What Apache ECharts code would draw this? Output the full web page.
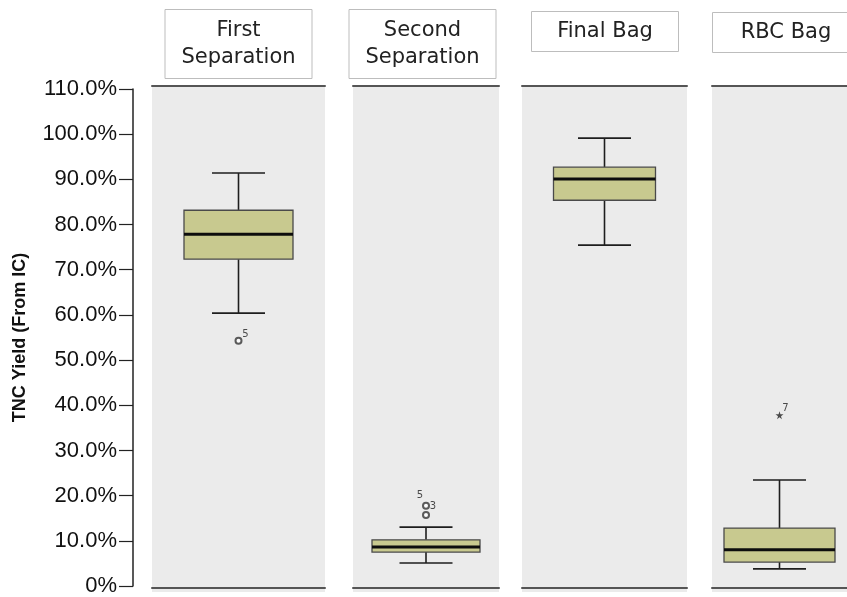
<!DOCTYPE html>
<html>
<head>
<meta charset="utf-8">
<script src="https://cdn.jsdelivr.net/npm/echarts@6/dist/echarts.min.js"></script>
<style>
  html, body { margin: 0; padding: 0; background: #fff; }
  #chart { width: 847px; height: 597px; }
</style>
</head>
<body>
<div id="chart"></div>
<script>
  // groups shown as panels
  var groups = ['First\nSeparation', 'Second\nSeparation', 'Final Bag', 'RBC Bag'];
  // [low whisker, Q1, median, Q3, high whisker] in %
  var boxStats = [
    [60.6, 72.5, 78.0, 83.3, 91.5],
    [5.5, 7.9, 9.0, 10.6, 13.4],
    [75.6, 85.5, 90.2, 92.8, 99.2],
    [4.2, 5.7, 8.4, 13.2, 23.8]
  ];
  // outliers: [panel, value, case label]
  var circleOutliers = [[0, 54.5, '5'], [1, 18.1, '5'], [1, 16.1, '3']];
  var starOutliers = [[3, 38.1, '7']];
  var yTicks = [0, 10, 20, 30, 40, 50, 60, 70, 80, 90, 100, 110];

  // panel layout (pixels)
  var panelLeft = [152, 353, 522, 712];
  var panelWidth = [173, 146, 165, 141];
  var boxWidth = [109, 108, 102, 111];
  var titleCenter = [238.5, 422.5, 605, 786];
  var titlePad = [[8, 17], [8, 17], [7, 26], [7, 28]];
  var titleTop = [9, 9, 11, 12];

  var chart = echarts.init(document.getElementById('chart'));

  var grids = [{ left: 133, top: 89, height: 499, width: 5, show: false }];
  var xAxes = [{ type: 'value', gridIndex: 0, show: false, min: 0, max: 1 }];
  var yAxes = [{
    type: 'value', gridIndex: 0, min: yTicks[0], max: yTicks[yTicks.length - 1], interval: 10,
    position: 'left',
    name: 'TNC Yield (From IC)', nameLocation: 'middle', nameGap: 104, nameRotate: 90,
    nameTextStyle: { fontFamily: 'Arial, "Liberation Sans"', fontWeight: 'bold', fontSize: 18, color: '#111' },
    axisLine: { show: true, lineStyle: { color: '#222', width: 1.5 } },
    axisTick: { show: true, length: 14, lineStyle: { color: '#222', width: 1.2 } },
    axisLabel: {
      fontFamily: 'Arial, "Liberation Sans"', fontSize: 22, color: '#111', margin: 16,
      formatter: function (v) { return v === 0 ? '0%' : v.toFixed(1) + '%'; }
    },
    splitLine: { show: false }
  }];
  var titles = [];
  var series = [];

  groups.forEach(function (g, i) {
    var gi = i + 1;
    grids.push({
      left: panelLeft[i], width: panelWidth[i], top: 86, height: 506,
      show: true, backgroundColor: '#ebebeb', borderWidth: 0
    });
    var lineAxis = {
      type: 'category', gridIndex: gi, data: [g],
      axisLine: { show: true, lineStyle: { color: '#555', width: 2 } },
      axisTick: { show: false }, axisLabel: { show: false }, splitLine: { show: false }
    };
    xAxes.push(Object.assign({ position: 'bottom' }, lineAxis));
    xAxes.push(Object.assign({ position: 'top' }, lineAxis));
    yAxes.push({
      type: 'value', gridIndex: gi, min: -0.9, max: 110.7, show: false
    });
    titles.push({
      text: g, left: titleCenter[i] - titlePad[i][1], top: titleTop[i], textAlign: 'center',
      padding: titlePad[i], borderColor: '#bdbdbd', borderWidth: 1, backgroundColor: '#fff',
      textStyle: { fontFamily: 'DejaVu Sans', fontSize: 21, fontWeight: 'normal', lineHeight: 27, color: '#222' }
    });

    var s = boxStats[i];
    series.push({
      type: 'custom', xAxisIndex: 2 * i + 1, yAxisIndex: gi,
      data: [[0, s[0], s[1], s[2], s[3], s[4]]],
      renderItem: function (params, api) {
        var x = api.coord([0, 0])[0];
        var yLow = api.coord([0, api.value(1)])[1];
        var yQ1 = api.coord([0, api.value(2)])[1];
        var yMed = api.coord([0, api.value(3)])[1];
        var yQ3 = api.coord([0, api.value(4)])[1];
        var yHigh = api.coord([0, api.value(5)])[1];
        var bw = boxWidth[i], cw = 53;
        var wStyle = { stroke: '#1e1e1e', lineWidth: 1.6 };
        return {
          type: 'group',
          children: [
            { type: 'line', shape: { x1: x, y1: yHigh, x2: x, y2: yQ3 }, style: wStyle },
            { type: 'line', shape: { x1: x, y1: yQ1, x2: x, y2: yLow }, style: wStyle },
            { type: 'line', shape: { x1: x - cw / 2, y1: yHigh, x2: x + cw / 2, y2: yHigh }, style: wStyle },
            { type: 'line', shape: { x1: x - cw / 2, y1: yLow, x2: x + cw / 2, y2: yLow }, style: wStyle },
            { type: 'rect', shape: { x: x - bw / 2, y: yQ3, width: bw, height: yQ1 - yQ3 },
              style: { fill: '#c8c98f', stroke: '#4a4a4a', lineWidth: 1.3 } },
            { type: 'line', shape: { x1: x - bw / 2, y1: yMed, x2: x + bw / 2, y2: yMed },
              style: { stroke: '#0d0d0d', lineWidth: 3 } }
          ]
        };
      }
    });
  });

  var labelOffsets = { '0-5': [7, -6], '1-5': [-6, -10], '1-3': [7, -9] };
  groups.forEach(function (g, i) {
    var pts = circleOutliers.filter(function (o) { return o[0] === i; });
    if (pts.length) {
      series.push({
        type: 'scatter', xAxisIndex: 2 * i + 1, yAxisIndex: i + 1,
        symbol: 'emptyCircle', symbolSize: 6,
        itemStyle: { color: '#333', borderWidth: 1 },
        data: pts.map(function (o) {
          return {
            value: [0, o[1]], name: o[2],
            label: {
              show: true, position: 'inside', formatter: '{b}',
              offset: labelOffsets[i + '-' + o[2]] || [7, -7],
              fontFamily: 'DejaVu Sans', fontSize: 10, color: '#222'
            }
          };
        })
      });
    }
    var stars = starOutliers.filter(function (o) { return o[0] === i; });
    if (stars.length) {
      series.push({
        type: 'scatter', xAxisIndex: 2 * i + 1, yAxisIndex: i + 1,
        symbol: 'path://M50,0 L61,35 L98,35 L68,57 L79,91 L50,70 L21,91 L32,57 L2,35 L39,35 Z',
        symbolSize: 8,
        itemStyle: { color: '#222' },
        data: stars.map(function (o) {
          return {
            value: [0, o[1]], name: o[2],
            label: {
              show: true, position: 'inside', formatter: '{b}', offset: [6, -7],
              fontFamily: 'DejaVu Sans', fontSize: 10, color: '#222'
            }
          };
        })
      });
    }
  });

  chart.setOption({
    animation: false,
    backgroundColor: '#fff',
    title: titles,
    grid: grids,
    xAxis: xAxes,
    yAxis: yAxes,
    series: series
  });
</script>
</body>
</html>
